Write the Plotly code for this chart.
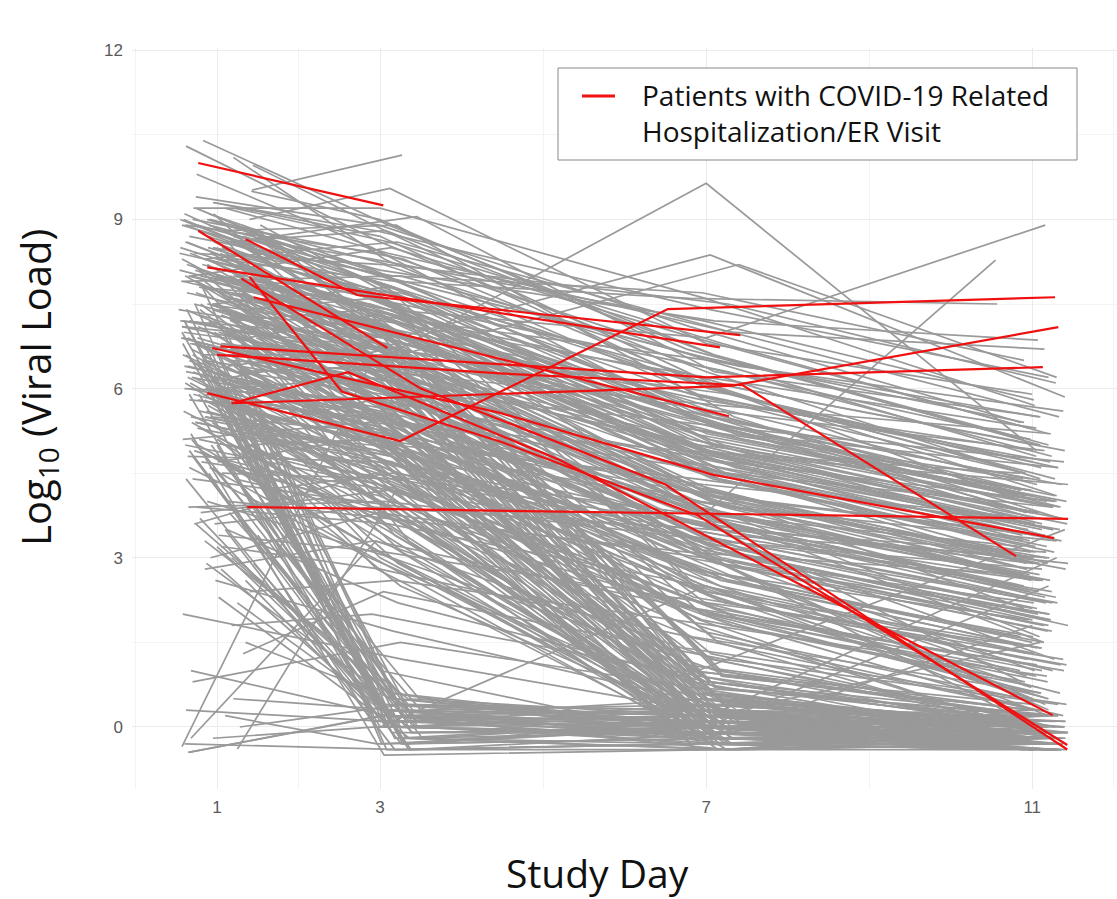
import plotly.graph_objects as go

# ---------------- data ----------------
# Group A: slow decliners
A_d1 = [0.62,0.95,1.21,0.78,1.40,0.55,1.05,0.88,1.32,0.70,1.15,0.60,1.48,0.83,1.02,1.27,0.66,0.92,1.10,0.74,
        1.36,0.58,0.99,1.19,0.81,1.44,0.64,1.08,0.90,1.30,0.72,1.17,0.57,1.25,0.86,1.03,1.38,0.68,0.96,1.13,
        0.79,1.50,0.61,1.22,0.94,0.76,1.34,1.06,0.69,1.16,0.87,1.42,0.59,1.00,1.28,0.73,1.11,0.84,1.55,0.65,
        1.20,0.91,0.56,1.37,0.80,1.04,1.26,0.67,0.97,1.14,0.75,1.46,0.63,1.09,0.89,1.31,0.71,1.18,0.58,1.01]
A_v1 = [8.9,8.5,9.2,7.8,8.1,7.2,6.8,7.5,8.7,9.0,6.5,6.0,7.9,8.3,7.0,6.3,5.8,5.5,8.6,9.4,
        7.6,6.9,8.0,7.3,6.6,5.2,4.8,8.8,9.1,7.7,8.4,6.2,7.1,8.2,5.9,6.7,7.4,8.0,9.3,6.4,
        5.6,7.8,8.6,6.1,7.5,8.9,5.0,4.5,6.8,7.2,8.3,9.5,7.0,6.0,5.3,8.1,7.6,6.5,4.2,3.9,
        8.7,9.0,7.9,6.9,7.3,5.7,6.3,8.4,3.6,4.0,5.4,6.6,7.7,8.8,8.5,7.4,9.2,6.2,5.1,4.7]
A_d3 = [3.02,2.95,3.11,2.88,3.20,3.05,2.92,3.15,3.00,3.28,2.97,3.08,3.24,2.90,3.13,3.03,2.86,3.18,3.07,2.99,
        3.30,2.94,3.10,3.01,3.22,2.89,3.06,3.16,2.93,3.12,3.04,2.87,3.26,2.98,3.09,3.19,2.91,3.14,3.00,3.23,
        2.96,3.07,3.32,2.90,3.11,3.02,2.95,3.17,3.05,2.88,3.21,2.99,3.09,3.13,2.92,3.27,3.03,2.97,3.15,3.06,
        2.89,3.10,3.25,2.94,3.01,3.18,2.98,3.12,2.91,3.08,3.29,2.96,3.04,3.20,2.93,3.14,3.00,3.11,2.87,3.16]
A_v3 = [8.4,7.9,8.6,7.5,7.2,6.9,6.5,7.0,8.0,8.3,6.3,5.8,7.7,7.6,6.2,5.9,5.5,5.2,8.8,8.9,
        6.8,6.0,7.4,7.1,6.6,5.0,4.7,7.8,8.1,6.4,8.2,5.6,6.7,7.3,5.4,6.1,7.6,8.5,8.7,6.8,
        4.9,6.6,7.1,5.3,7.8,8.0,5.1,4.4,5.7,7.4,8.6,9.0,6.5,6.2,5.8,6.9,7.2,6.0,4.5,4.0,
        8.3,8.2,8.0,7.3,6.3,5.0,6.4,7.0,3.9,3.7,4.6,5.5,6.9,8.9,7.7,6.0,9.2,6.7,5.4,5.2]
A_d7 = [7.02,6.85,7.20,6.95,7.35,6.70,7.10,6.90,7.28,6.78,7.05,6.88,7.42,6.98,7.15,6.73,7.25,6.93,7.08,6.80,
        7.38,6.87,7.00,7.18,6.75,7.30,6.96,7.12,6.83,7.22,6.91,7.06,7.45,6.79,7.14,6.99,7.26,6.86,7.03,7.33,
        6.72,7.17,6.94,7.09,6.81,7.40,6.97,7.21,6.89,7.07,7.31,6.76,7.13,6.92,7.24,6.84,7.01,7.36,6.74,7.11,
        6.97,7.27,6.82,7.04,7.19,6.88,7.47,6.95,7.10,6.77,7.23,6.90,7.06,7.34,6.86,7.16,6.99,7.29,6.71,7.02]
A_v7 = [6.5,6.1,6.8,5.6,5.3,5.5,5.0,4.8,5.9,6.2,4.9,4.6,6.0,5.4,4.4,4.2,4.5,4.0,6.6,7.1,
        5.2,4.3,5.7,5.8,5.3,3.9,3.6,5.0,5.6,4.7,6.4,3.8,5.1,5.5,4.1,4.6,6.3,6.9,6.0,5.4,
        3.7,4.5,4.9,3.5,5.9,6.4,4.3,3.4,3.9,6.1,7.0,6.7,5.6,5.0,4.7,5.2,6.2,5.3,3.8,3.3,
        7.2,7.5,6.6,6.5,5.7,4.4,4.8,5.8,3.5,3.1,3.2,3.6,4.2,5.5,4.6,4.0,7.6,5.9,4.9,4.1]
A_d11 = [11.05,10.92,11.20,11.00,11.35,10.85,11.12,10.97,11.28,10.88,11.08,10.95,11.40,11.02,11.18,10.90,11.25,10.99,11.10,10.86,
         11.32,10.94,11.06,11.22,10.89,11.30,11.01,11.14,10.93,11.26,10.98,11.09,11.42,10.87,11.16,11.04,11.24,10.96,11.11,11.36,
         10.84,11.19,11.03,11.13,10.91,11.38,11.00,11.21,10.95,11.07,11.33,10.88,11.15,10.99,11.27,10.92,11.05,11.39,10.86,11.12,
         11.02,11.29,10.90,11.08,11.23,10.97,11.44,11.01,11.17,10.89,11.25,10.94,11.10,11.34,10.93,11.18,11.03,11.31,10.85,11.06]
A_v11 = [4.8,4.5,5.2,4.1,3.9,4.2,3.6,3.3,4.4,4.0,3.8,3.5,4.9,3.7,3.2,3.0,3.9,3.1,5.0,5.4,
         4.6,2.8,4.3,4.7,4.4,3.3,2.9,3.4,3.8,3.5,5.1,2.7,4.0,4.2,3.4,3.1,4.8,5.3,4.6,4.3,
         2.5,2.9,3.6,2.6,4.5,5.6,3.7,3.0,2.4,5.0,5.5,5.1,4.9,4.2,4.0,4.1,5.3,4.7,3.2,2.8,
         5.8,6.1,5.4,5.5,5.2,3.6,4.3,4.9,3.1,2.7,2.2,2.3,2.6,3.7,2.9,3.0,5.7,4.6,4.5,3.4]

# Group B: fast decliners
B_d1 = [0.88,1.12,0.64,1.35,0.97,0.71,1.24,0.59,1.06,0.82,1.45,0.69,1.17,0.93,0.61,1.29,0.77,1.03,1.52,0.66,
        0.98,1.21,0.74,1.39,0.85,1.08,0.57,1.33,0.90,1.14,0.63,1.26,0.80,1.00,1.43,0.72,1.10,0.95,0.60,1.19,
        0.86,1.31,0.68,1.04,1.48,0.76,1.15,0.92,0.65,1.22,0.83,1.37,0.70,1.07,0.96,1.27,0.62,1.13,0.79,1.01]
B_v1 = [8.2,7.6,6.9,8.8,7.0,6.2,5.8,9.0,7.3,6.5,8.5,5.4,7.8,6.7,8.0,5.0,7.1,6.0,8.7,4.6,
        7.5,6.4,9.2,5.6,7.9,6.8,8.3,5.2,7.2,6.1,8.6,7.7,6.6,5.9,8.1,4.9,7.4,6.3,8.9,7.0,
        6.0,7.6,5.5,8.4,6.9,5.3,7.3,6.2,8.0,4.4,7.8,6.5,8.2,5.7,9.1,7.1,6.6,8.6,7.4,5.1]
B_d3 = [3.05,2.92,3.18,2.98,3.10,3.25,2.89,3.14,3.02,2.95,3.21,3.07,2.90,3.16,3.00,3.28,2.94,3.12,3.04,2.87,
        3.19,2.97,3.09,3.23,2.91,3.13,3.01,2.96,3.26,3.08,2.93,3.17,3.03,2.99,3.11,3.30,2.88,3.15,3.06,2.94,
        3.20,3.00,3.12,2.90,3.24,3.05,2.97,3.14,3.09,2.92,3.33,3.18,3.40,3.22,3.15,3.35,3.27,3.10,3.31,3.25]
B_v3 = [6.5,5.8,5.0,7.2,4.6,4.2,3.9,7.5,6.1,5.4,6.8,3.5,5.2,4.8,6.0,3.2,5.5,4.0,7.0,3.0,
        6.3,4.4,7.8,4.1,5.6,5.9,6.4,2.8,4.9,4.5,7.3,6.6,5.1,4.3,6.2,3.6,5.3,3.8,7.6,5.7,
        5.0,6.0,4.8,6.9,5.6,4.6,6.7,5.2,7.1,3.8,4.0,3.4,5.0,2.9,6.2,3.3,3.1,5.5,4.7,2.5]
B_d7 = [7.05,6.88,7.22,6.95,7.12,6.78,7.30,6.92,7.08,6.83,7.18,6.97,7.40,6.86,7.02,7.25,6.74,7.14,6.90,7.35,
        6.99,7.10,6.81,7.20,6.94,7.06,7.28,6.87,7.16,6.76,7.03,7.32,6.91,7.11,6.84,7.24,6.98,7.07,7.42,6.89,
        7.13,6.80,7.21,6.96,7.04,7.37,6.85,7.17,6.93,7.09,6.79,7.26,7.00,6.88,7.15,7.33,6.97,7.05,6.82,7.19]
B_v7 = [1.2,0.5,0.2,2.0,0.0,-0.2,0.4,2.4,1.6,0.8,1.0,0.1,-0.1,0.3,0.6,-0.3,1.4,0.0,1.8,0.2,
        2.2,-0.2,2.6,0.5,0.9,1.3,0.3,-0.1,0.1,1.1,3.0,2.8,1.9,0.7,0.0,0.4,0.2,-0.3,3.3,2.5,
        3.0,3.5,2.7,3.8,3.2,2.4,4.0,2.9,4.2,2.0,0.1,0.0,0.5,0.2,1.5,-0.2,0.3,0.8,0.6,0.0]
B_d11 = [11.08,10.95,11.22,11.02,11.30,10.88,11.15,10.98,11.38,10.92,11.12,11.01,11.26,10.90,11.18,11.05,11.42,10.96,11.10,10.86,
         11.34,11.00,11.20,10.94,11.13,11.28,10.89,11.07,11.40,10.99,11.16,10.91,11.24,11.04,11.32,10.97,11.11,11.36,10.87,11.19,
         11.03,11.27,10.93,11.14,11.44,10.99,11.09,11.21,10.90,11.06,11.31,10.95,11.17,11.39,11.00,11.23,10.92,11.12,11.35,11.02]
B_v11 = [0.1,-0.2,-0.3,0.3,-0.1,-0.3,0.0,0.5,0.2,-0.2,-0.1,-0.3,-0.2,0.2,0.0,-0.4,0.4,-0.3,-0.1,-0.2,
         0.6,-0.4,0.2,0.1,-0.3,0.0,-0.2,-0.3,-0.1,0.3,0.4,0.1,-0.2,0.2,-0.4,-0.1,-0.3,-0.4,0.8,0.5,
         1.0,1.2,0.9,1.5,1.8,0.7,1.6,2.0,2.1,1.1,-0.2,0.1,-0.3,0.0,-0.1,-0.3,0.2,0.0,-0.2,-0.4]

# Group C: drop to undetectable by day 3
C_d1 = [0.75,1.05,0.60,1.30,0.90,1.15,0.68,1.42,0.82,1.00,1.22,0.58,1.35,0.95,1.10,0.66,1.27,0.87,1.48,0.73,
        1.18,0.93,0.62,1.33,1.02,0.79,1.40,0.70,1.12,0.85]
C_v1 = [6.5,5.8,7.2,4.9,6.0,3.8,5.2,4.3,7.8,3.2,5.5,6.8,2.6,4.6,3.5,5.9,6.3,2.9,4.0,7.5,
        3.0,5.0,4.4,6.1,2.3,3.7,5.6,4.8,7.0,3.3]
C_d3 = [3.10,3.25,3.02,3.35,3.15,3.45,3.05,3.30,3.20,3.40,3.08,3.28,3.12,3.50,3.18,3.00,3.38,3.22,3.32,3.06,
        3.42,3.14,3.26,3.04,3.36,3.16,3.46,3.09,3.24,3.34]
C_v3 = [0.2,-0.2,0.3,-0.4,0.0,0.1,-0.5,0.4,0.5,-0.1,0.2,-0.3,0.0,0.3,-0.4,0.1,-0.1,0.4,-0.2,0.0,
        0.2,0.6,-0.3,0.3,-0.2,0.1,0.0,0.2,-0.2,0.5]
C_d7 = [7.00,6.85,7.20,6.95,7.30,6.75,7.10,6.90,7.25,7.05,6.80,7.15,6.98,7.35,6.88,7.08,7.22,6.92,7.40,6.78,
        7.12,7.02,6.86,7.28,6.96,7.18,6.82,7.06,7.32,6.94]
C_v7 = [0.0,-0.1,0.2,-0.3,0.1,-0.2,-0.4,0.3,0.0,0.0,-0.3,-0.2,-0.1,0.4,-0.3,0.2,0.0,0.1,-0.4,-0.1,
        0.5,0.0,0.1,-0.2,-0.3,0.0,0.3,-0.1,-0.4,0.2]
C_d11 = [11.05,11.20,10.90,11.35,11.00,11.25,10.95,11.40,11.10,10.88,11.30,11.02,11.15,10.92,11.42,11.08,10.98,11.22,11.12,11.38,
         10.96,11.28,11.04,11.18,10.86,11.32,11.14,11.00,11.24,11.44]
C_v11 = [-0.2,-0.3,0.0,-0.4,-0.1,-0.3,-0.3,0.1,-0.2,-0.2,-0.4,-0.1,0.2,0.0,-0.4,0.3,-0.2,-0.1,-0.3,-0.3,
         0.1,-0.2,0.0,-0.4,-0.2,0.2,0.0,-0.3,-0.4,-0.1]

# Group D: low starters
D_d1 = [0.62,0.95,1.20,0.75,1.05,0.58,1.35,0.85,1.12,0.68,1.28,0.65,0.92,1.40,0.80,1.18,0.70,1.02,1.25,0.88,
        1.10,0.60,1.32,0.98,0.72]
D_v1 = [0.3,-0.2,0.5,3.9,3.2,2.0,1.5,2.8,3.5,1.0,0.0,-0.45,3.0,2.4,3.8,1.8,0.8,3.4,2.2,4.0,
        0.2,-0.3,1.3,2.6,3.6]
D_d3 = [3.05,2.95,3.20,3.10,3.00,3.28,3.15,2.92,3.22,3.08,3.30,3.02,2.98,3.18,3.12,2.90,3.25,3.06,3.35,3.14,
        2.96,3.26,3.04,3.16,2.93]
D_v3 = [0.1,0.0,0.3,3.6,2.8,1.2,0.5,3.3,2.2,0.2,0.4,0.2,3.8,2.6,4.2,2.0,1.5,3.1,0.0,3.0,
        -0.3,-0.4,2.4,1.7,4.5]
D_d7 = [7.05,6.90,7.20,6.95,7.10,7.30,6.85,7.15,7.00,7.25,6.80,7.35,6.98,7.08,7.18,6.92,7.28,7.02,6.88,7.12,
        7.40,6.95,7.22,7.06,6.86]
D_v7 = [0.0,-0.1,0.1,2.5,1.5,0.2,0.0,2.0,0.8,-0.2,0.2,0.0,3.0,1.8,3.3,0.9,0.6,2.2,-0.2,1.0,
        -0.2,-0.3,1.2,0.4,3.6]
D_d11 = [11.00,11.15,10.90,11.25,11.05,11.35,10.95,11.20,11.10,11.30,10.88,11.40,11.02,11.18,11.08,11.28,10.92,11.12,11.38,11.04,
         11.22,10.98,11.32,11.14,11.44]
D_v11 = [-0.2,-0.3,0.0,1.0,0.3,-0.1,-0.2,0.5,0.1,-0.3,0.1,-0.2,2.2,0.9,2.6,0.0,-0.1,1.4,-0.3,0.2,
         -0.4,-0.2,0.4,0.0,2.9]

# Group E: individual / atypical trajectories (None = visit not shown)
E_d1 = [0.62,0.83,1.20,1.44,0.75,1.43,1.40,1.20,1.00,1.30,0.90,1.10,0.80,1.00,0.90,1.10,0.60,0.57,0.68,0.65,
        1.25,1.00,0.80,1.20,1.30,0.90,1.00,0.95,0.66,1.05]
E_v1 = [10.3,10.4,10.1,9.96,9.8,9.52,9.0,8.6,8.5,7.8,7.5,6.0,8.0,8.3,8.9,9.2,9.1,-0.35,-0.2,-0.45,
        -0.39,6.0,7.5,5.0,6.8,4.5,5.0,9.3,8.7,2.8]
E_d3 = [3.00,3.10,3.05,3.20,2.90,3.27,3.12,3.45,3.10,3.20,3.00,3.00,3.10,3.20,3.00,3.10,2.90,2.90,2.95,3.05,
        3.20,3.00,3.10,3.00,3.20,2.90,3.00,2.95,3.15,3.00]
E_v3 = [8.6,8.9,8.3,8.7,8.5,10.14,9.55,9.05,6.6,6.9,6.5,5.5,7.4,7.9,8.1,8.4,7.6,6.5,3.3,0.2,
        4.2,3.0,5.0,1.0,4.5,0.1,0.0,8.8,8.0,0.3]
E_d7 = [7.00,7.10,6.90,7.20,7.00,None,7.00,7.10,7.00,7.05,7.40,7.00,7.00,6.80,7.10,7.30,6.50,7.00,7.10,7.00,
        7.00,7.00,7.20,7.00,6.90,7.10,7.00,7.05,6.95,6.90]
E_v7 = [6.3,6.6,5.9,6.0,5.4,None,6.8,6.3,9.64,8.37,8.2,3.8,6.9,7.6,7.2,7.0,5.8,3.0,1.2,0.1,
        2.0,0.0,0.3,-0.2,1.0,0.2,2.5,7.4,7.7,0.0]
E_d11 = [11.10,11.20,11.00,11.30,11.00,None,11.00,11.10,11.05,11.40,11.30,10.55,11.16,10.57,11.07,11.15,None,11.20,11.00,11.30,
         11.10,11.20,11.30,11.00,11.40,11.10,11.00,11.20,10.90,11.10]
E_v11 = [4.4,5.0,4.7,4.1,3.8,None,5.9,5.5,4.9,5.85,6.2,8.28,8.9,7.5,6.86,6.7,None,0.3,0.0,-0.2,
         0.6,2.5,3.0,1.8,3.5,1.5,0.5,6.2,6.5,-0.1]

# Group F: moderate decliners
F_d1 = [0.53,0.98,1.24,0.71,1.09,0.57,1.33,0.86,0.63,1.18,0.76,1.41,0.94,0.55,1.27,0.81,1.05,0.67,1.53,0.90,
        0.60,1.14,0.79,1.36,0.99,0.54,1.22,0.73,1.07,0.88,1.45,0.65,1.16,0.84,0.58,1.30,0.96,0.70,1.11,0.77,
        1.39,0.62,1.02,0.87,1.20,0.56,1.34,0.74,0.93,1.08,0.66,1.26,0.82,1.47,0.59,1.01,0.89,1.15,0.72,1.32,
        0.97,0.54,1.23,0.78,1.06,0.64,1.40,0.85,1.12,0.69,1.29,0.91,0.57,1.17,0.80,1.03,0.68,1.37,0.95,0.61]
F_v1 = [7.4,8.0,6.6,5.9,8.7,7.1,6.3,5.5,8.2,7.7,6.9,6.1,7.9,8.5,5.2,4.7,7.3,6.8,8.9,7.5,
        6.4,5.7,8.1,7.0,6.2,8.4,7.6,5.4,6.7,9.0,7.8,6.0,5.0,8.3,7.2,6.5,8.6,4.4,7.0,5.8,
        8.8,6.3,7.4,5.6,8.0,6.9,4.9,7.7,8.4,6.1,7.2,5.3,8.2,6.6,7.9,5.9,8.7,4.6,7.5,6.8,
        6.0,8.1,7.3,5.1,8.5,6.4,7.6,5.5,8.3,6.2,7.1,4.8,8.9,6.7,7.8,5.7,8.0,6.5,7.4,5.0]
F_d3 = [3.08,2.93,3.17,3.01,2.89,3.22,3.05,2.96,3.13,3.27,2.91,3.10,3.03,3.19,2.87,3.14,3.00,3.24,2.95,3.09,
        3.31,2.98,3.12,2.90,3.06,3.20,2.94,3.15,3.02,2.88,3.25,3.07,2.97,3.11,3.18,2.92,3.04,3.29,2.99,3.13,
        2.86,3.21,3.06,2.95,3.16,3.01,3.26,2.90,3.10,3.03,3.19,2.97,3.12,3.34,2.93,3.08,3.23,2.89,3.15,3.00,
        3.28,2.96,3.11,3.05,2.91,3.20,3.02,3.14,2.88,3.07,3.24,2.99,3.17,2.94,3.09,3.30,2.92,3.13,3.04,2.98]
F_v3 = [6.8,7.0,6.0,5.0,7.9,6.3,5.4,4.9,7.0,6.9,6.0,5.2,7.1,7.3,4.6,4.2,6.2,6.1,7.8,6.4,
        5.5,5.0,7.2,6.3,5.4,7.5,6.8,4.7,5.8,8.1,7.0,5.3,4.4,7.4,6.5,5.6,7.5,3.9,6.0,5.0,
        7.6,5.6,6.7,4.8,7.3,6.0,4.2,6.6,7.7,5.3,6.5,4.5,7.3,5.8,7.1,5.1,7.6,3.9,6.6,6.0,
        5.1,7.2,6.3,4.4,7.6,5.5,6.8,4.8,7.4,5.5,6.2,4.1,7.8,5.9,7.0,4.9,7.2,5.7,6.4,4.3]
F_d7 = [6.94,7.12,6.80,7.27,7.03,6.87,7.19,6.75,7.08,7.36,6.91,7.15,6.84,7.22,6.99,7.31,6.78,7.05,7.43,6.89,
        7.11,6.96,7.25,6.82,7.17,7.01,6.73,7.29,6.93,7.09,7.38,6.86,7.14,6.97,7.21,6.79,7.06,7.33,6.90,7.18,
        6.77,7.24,7.00,6.85,7.13,7.41,6.95,7.07,6.81,7.28,7.02,6.88,7.20,6.74,7.16,6.98,7.35,6.83,7.10,6.92,
        7.26,6.80,7.04,7.44,6.89,7.12,6.97,7.23,6.76,7.08,7.32,6.94,7.15,6.86,7.19,7.01,6.79,7.27,6.91,7.06]
F_v7 = [4.2,4.8,3.5,2.6,5.1,3.9,3.0,2.8,4.4,4.6,3.7,2.9,4.9,5.0,2.4,2.0,3.8,3.3,5.4,4.0,
        3.1,2.7,4.5,3.6,2.5,5.2,4.3,2.2,3.2,5.5,4.7,2.8,2.1,4.9,3.9,3.0,5.0,1.8,3.4,2.6,
        5.3,3.1,4.1,2.3,4.6,3.5,1.9,4.0,5.1,2.7,3.8,2.1,4.8,3.2,4.4,2.5,5.2,1.6,4.0,3.4,
        2.6,4.7,3.7,1.9,5.0,2.9,4.2,2.2,4.9,3.0,3.6,1.7,5.3,3.3,4.5,2.4,4.8,3.1,3.9,2.0]
F_d11 = [11.09,10.93,11.24,11.01,11.33,10.87,11.15,10.96,11.27,11.04,10.90,11.19,11.37,10.98,11.11,10.85,11.22,11.06,10.94,11.41,
         11.00,11.14,10.89,11.29,11.03,11.18,10.92,11.35,11.07,10.97,11.25,10.86,11.12,11.43,10.99,11.20,11.05,10.91,11.31,11.10,
         10.95,11.23,11.02,11.38,10.88,11.16,11.08,10.93,11.26,11.00,11.13,11.39,10.90,11.21,11.04,10.96,11.30,11.11,10.87,11.17,
         11.06,11.34,10.98,11.19,10.92,11.24,11.02,11.42,10.95,11.14,11.08,10.89,11.28,11.00,11.36,10.94,11.12,11.21,10.97,11.05]
F_v11 = [2.9,3.6,2.4,1.6,3.9,2.7,1.8,1.9,3.1,3.4,2.5,1.7,3.7,3.8,1.4,1.0,2.6,2.1,4.2,2.8,
         1.9,1.5,3.3,2.3,1.3,4.0,3.0,1.1,2.0,4.4,3.5,1.6,1.0,3.6,2.6,1.8,3.8,0.8,2.2,1.4,
         4.1,1.9,2.9,1.2,3.4,2.3,0.7,2.8,3.9,1.5,2.6,1.0,3.5,2.0,3.2,1.3,4.0,0.6,2.7,2.2,
         1.4,3.5,2.4,0.8,3.7,1.7,3.0,1.1,3.6,1.8,2.4,0.5,4.1,2.1,3.3,1.2,3.5,1.9,2.7,0.9]

# Group G: fast decliners reaching undetectable by day 7
G_d1 = [0.92,1.18,0.67,1.31,0.79,1.04,0.58,1.44,0.85,1.13,0.71,1.25,0.96,0.62,1.38,0.88,1.07,0.75,1.21,0.55,
        1.00,1.34,0.69,1.16,0.83,1.47,0.64,1.09,0.91,1.28,0.73,1.12,0.59,1.40,0.86,1.02,0.77,1.23,0.66,1.50,
        0.94,1.19,0.61,1.06,0.81,1.32,0.70,1.15,0.89,1.26]
G_v1 = [8.4,7.2,6.1,8.9,5.3,7.7,6.6,8.1,5.8,7.0,6.3,8.6,4.8,7.4,6.9,8.3,5.5,7.9,6.4,9.0,
        5.1,7.6,6.7,8.0,5.9,7.1,6.2,8.7,4.6,7.3,6.8,8.5,5.6,7.8,6.0,8.2,5.0,7.5,6.5,8.8,
        5.4,7.0,6.1,8.3,4.9,7.7,6.6,8.1,5.7,7.2]
G_d3 = [3.04,3.16,2.93,3.22,3.09,2.97,3.28,3.01,3.13,2.90,3.19,3.06,3.25,2.95,3.11,3.00,3.33,3.07,2.92,3.18,
        3.03,3.24,2.98,3.14,3.08,2.89,3.21,3.02,3.30,3.10,2.96,3.17,3.05,3.27,2.94,3.12,3.00,3.20,3.07,2.91,
        3.15,3.26,2.99,3.09,3.36,3.03,3.18,2.95,3.11,3.23]
G_v3 = [6.9,5.6,4.3,7.4,3.6,6.2,4.8,6.5,3.9,5.4,4.5,7.0,2.9,5.9,5.2,6.7,3.7,6.3,4.7,7.5,
        3.3,6.0,5.0,6.4,4.1,5.5,4.4,7.1,2.7,5.7,5.1,6.8,3.8,6.1,4.2,6.6,3.1,5.8,4.9,7.2,
        3.5,5.3,4.0,6.7,2.8,6.2,4.6,6.3,3.9,5.5]
G_d7 = [7.06,6.91,7.18,6.84,7.29,7.00,6.77,7.13,6.95,7.37,6.88,7.22,7.04,6.81,7.15,6.97,7.32,6.86,7.09,6.74,
        7.25,6.99,7.11,6.90,7.40,6.83,7.17,7.03,6.93,7.21,6.79,7.08,7.34,6.96,7.14,6.87,7.26,7.01,6.76,7.19,
        6.94,7.12,7.45,6.89,7.05,7.23,6.82,7.10,6.98,7.30]
G_v7 = [0.8,0.2,-0.2,1.0,-0.3,0.5,0.0,0.7,-0.1,0.3,-0.4,0.9,-0.2,0.4,0.1,0.6,-0.3,0.2,0.0,1.0,
        -0.4,0.3,-0.1,0.5,0.1,0.2,-0.3,0.8,-0.2,0.0,0.4,0.6,-0.1,0.3,-0.4,0.7,0.0,0.1,-0.2,0.9,
        -0.3,0.2,0.0,0.5,-0.1,0.4,-0.3,0.6,0.1,-0.2]
G_d11 = [11.12,10.97,11.26,11.03,11.38,10.90,11.17,11.06,11.30,10.94,11.21,11.00,11.43,10.88,11.14,11.08,11.34,10.96,11.19,11.02,
         11.27,10.92,11.11,11.40,10.99,11.23,11.05,11.32,10.87,11.15,11.09,11.36,10.95,11.20,11.04,11.28,10.91,11.13,11.41,11.01,
         11.18,10.98,11.25,11.07,11.35,10.93,11.16,11.44,11.03,11.22]
G_v11 = [0.0,-0.3,-0.4,0.2,-0.2,-0.1,-0.3,0.1,-0.4,-0.2,-0.3,0.3,-0.1,-0.4,0.0,-0.2,-0.3,0.1,-0.4,0.4,
         -0.2,-0.1,-0.3,0.0,-0.4,-0.2,-0.1,0.2,-0.3,-0.4,0.1,-0.2,-0.3,0.0,-0.1,0.2,-0.4,-0.3,-0.2,0.3,
         -0.1,-0.4,-0.2,0.1,-0.3,0.0,-0.4,-0.1,-0.2,-0.3]

# Group H: more drops to undetectable by day 3
H_d1 = [0.88,1.14,0.63,1.37,0.97,0.74,1.23,0.57,1.06,0.82,1.45,0.69,1.19,0.91,0.60,1.30,0.78,1.03,1.50,0.66]
H_v1 = [6.8,5.4,7.4,4.1,6.2,3.6,5.7,7.0,4.7,6.5,2.9,5.1,6.0,4.4,7.2,3.9,5.9,6.6,3.4,4.9]
H_d3 = [3.12,3.30,3.04,3.44,3.18,3.36,3.08,3.27,3.48,3.14,3.22,3.40,3.02,3.33,3.16,3.52,3.10,3.25,3.38,3.06]
H_v3 = [0.1,-0.3,0.4,0.0,-0.2,0.3,-0.4,0.2,0.5,-0.1,0.0,0.3,-0.3,0.1,0.6,-0.2,0.2,0.0,-0.4,0.4]
H_d7 = [6.92,7.14,6.81,7.27,7.03,6.88,7.36,6.97,7.21,6.84,7.10,7.31,6.95,7.18,6.79,7.06,7.25,6.90,7.42,7.00]
H_v7 = [-0.1,0.0,0.2,-0.3,0.1,-0.2,-0.4,0.3,0.0,-0.1,0.2,-0.3,0.0,0.4,-0.2,0.1,-0.4,0.3,-0.1,0.0]
H_d11 = [11.16,10.94,11.29,11.03,11.37,10.91,11.21,11.08,10.86,11.33,11.12,10.98,11.26,11.41,11.00,11.19,10.93,11.35,11.06,11.24]
H_v11 = [-0.3,-0.2,0.1,-0.4,0.0,-0.1,-0.3,-0.2,0.2,-0.4,0.0,-0.3,-0.1,0.1,-0.2,-0.4,0.0,-0.3,-0.1,0.2]

# Patients with COVID-19 related hospitalization / ER visit
red_days = [[0.77,3.04],
            [0.77,3.09],
            [1.35,2.72,7.42],
            [0.88,7.17],
            [1.40,2.53,4.5,6.9,11.43],
            [0.88,3.25,6.53,11.28],
            [1.18,7.3,11.32],
            [1.18,2.61,5.21,11.25],
            [1.04,7.0,11.13],
            [1.37,11.44],
            [0.94,4.47,7.09,11.27],
            [1.45,7.28],
            [1.0,4.47,7.45,10.8],
            [1.30,3.5,6.5,11.43]]
red_vals = [[10.0,9.25],
            [8.8,6.72],
            [8.65,7.66,6.95],
            [8.15,6.73],
            [7.98,5.95,5.05,3.75,-0.32],
            [5.92,5.07,7.41,7.62],
            [5.74,6.05,7.09],
            [5.74,6.29,4.73,0.21],
            [6.75,6.2,6.38],
            [3.9,3.69],
            [6.72,5.57,4.47,3.35],
            [7.62,5.51],
            [6.6,6.27,6.06,3.03],
            [7.95,6.0,4.3,-0.4]]

x_ticks = [1, 3, 7, 11]
y_ticks = [0, 3, 6, 9, 12]
legend_label = "Patients with COVID-19 Related<br>Hospitalization/ER Visit"

# ---------------- build ----------------
def collect(groups):
    xs, ys = [], []
    for days_list, vals_list in groups:
        n = len(days_list[0])
        for i in range(n):
            for dl, vl in zip(days_list, vals_list):
                if dl[i] is not None and vl[i] is not None:
                    xs.append(dl[i]); ys.append(vl[i])
            xs.append(None); ys.append(None)
    return xs, ys

gx, gy = collect([
    ((A_d1, A_d3, A_d7, A_d11), (A_v1, A_v3, A_v7, A_v11)),
    ((B_d1, B_d3, B_d7, B_d11), (B_v1, B_v3, B_v7, B_v11)),
    ((C_d1, C_d3, C_d7, C_d11), (C_v1, C_v3, C_v7, C_v11)),
    ((D_d1, D_d3, D_d7, D_d11), (D_v1, D_v3, D_v7, D_v11)),
    ((E_d1, E_d3, E_d7, E_d11), (E_v1, E_v3, E_v7, E_v11)),
    ((F_d1, F_d3, F_d7, F_d11), (F_v1, F_v3, F_v7, F_v11)),
    ((G_d1, G_d3, G_d7, G_d11), (G_v1, G_v3, G_v7, G_v11)),
    ((H_d1, H_d3, H_d7, H_d11), (H_v1, H_v3, H_v7, H_v11)),
])

rx, ry = [], []
for d, v in zip(red_days, red_vals):
    rx += d + [None]; ry += v + [None]

fig = go.Figure()
fig.add_trace(go.Scatter(x=gx, y=gy, mode="lines", line=dict(color="#999999", width=1.7),
                         hoverinfo="skip", showlegend=False, connectgaps=False))
fig.add_trace(go.Scatter(x=rx, y=ry, mode="lines", line=dict(color="#f01010", width=2.2),
                         name=legend_label, showlegend=False, connectgaps=False))

tick_font = dict(family="Liberation Sans, Arial, sans-serif", size=17, color="#5a5a5a")
title_font = "Open Sans, Roboto, sans-serif"

fig.update_layout(
    width=1117, height=899, autosize=False,
    margin=dict(l=132, r=0, t=48, b=110),
    paper_bgcolor="white", plot_bgcolor="white",
    showlegend=False,
    xaxis=dict(range=[-0.043, 12.04], tickmode="array", tickvals=x_ticks,
               ticktext=[str(t) for t in x_ticks], showgrid=True, gridcolor="#ebebeb",
               gridwidth=1.2, zeroline=False, showline=False, ticks="", tickfont=tick_font,
               ticklabelstandoff=6,
               minor=dict(tickmode="array", tickvals=[0, 2, 5, 9, 12], showgrid=True,
                          gridcolor="#f3f3f3", gridwidth=0.8)),
    yaxis=dict(range=[-1.1, 12.04], tickmode="array", tickvals=y_ticks,
               ticktext=[str(t) for t in y_ticks], showgrid=True, gridcolor="#ebebeb",
               gridwidth=1.2, zeroline=False, showline=False, ticks="", tickfont=tick_font,
               ticklabelstandoff=8,
               minor=dict(tickmode="array", tickvals=[1.5, 4.5, 7.5, 10.5], showgrid=True,
                          gridcolor="#f3f3f3", gridwidth=0.8)),
)

PW = 1117 - 132
PH = 899 - 48 - 110
def px(x):
    return (x - 132) / PW
def py(y):
    return (899 - 110 - y) / PH

annotations = [
    dict(text="Study Day", x=px(597), y=py(872), xref="paper", yref="paper",
         xanchor="center", yanchor="middle", showarrow=False,
         font=dict(family=title_font, size=39, color="#111111")),
    dict(text="Log<sub>10</sub> (Viral Load)", x=px(37), y=py(388), xref="paper", yref="paper",
         xanchor="center", yanchor="middle", textangle=-90, showarrow=False,
         font=dict(family=title_font, size=40, color="#111111")),
    dict(text=legend_label, x=px(640), y=py(113), xref="paper", yref="paper",
         xanchor="left", yanchor="middle", align="left", showarrow=False,
         font=dict(family=title_font, size=28, color="#111111")),
]
shapes = [
    dict(type="rect", xref="paper", yref="paper", x0=px(558), x1=px(1077), y0=py(160), y1=py(68),
         line=dict(color="#888888", width=1), fillcolor="white", layer="above"),
    dict(type="line", xref="paper", yref="paper", x0=px(582), x1=px(615), y0=py(96), y1=py(96),
         line=dict(color="#f01010", width=3), layer="above"),
]
fig.update_layout(annotations=annotations, shapes=shapes)

fig.write_html("out.html")
